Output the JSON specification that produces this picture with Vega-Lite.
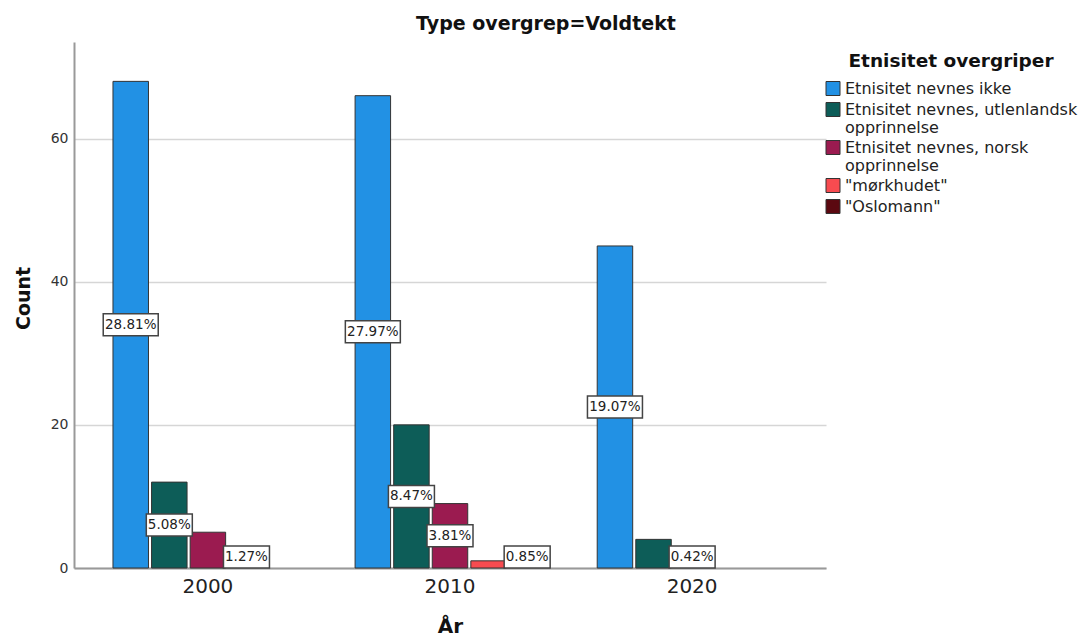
{
  "$schema": "https://vega.github.io/schema/vega-lite/v6.json",
  "width": 752,
  "height": 526,
  "autosize": {"type": "none"},
  "padding": {"left": 74, "top": 42, "right": 262, "bottom": 68},
  "background": "white",
  "config": {"view": {"stroke": null}, "font": "DejaVu Sans"},
  "title": {"text": "Type overgrep=Voldtekt", "fontSize": 19, "fontWeight": "bold", "font": "DejaVu Sans", "anchor": "middle", "frame": "group", "dx": 96, "offset": 8, "color": "#111"},
  "data": {"values": [
    {"year": "2000", "series": "Etnisitet nevnes ikke", "count": 68, "pct": "28.81%"},
    {"year": "2000", "series": "Etnisitet nevnes, utlenlandsk opprinnelse", "count": 12, "pct": "5.08%"},
    {"year": "2000", "series": "Etnisitet nevnes, norsk opprinnelse", "count": 5, "pct": ""},
    {"year": "2000", "series": "\"mørkhudet\"", "count": 0, "pct": "1.27%"},
    {"year": "2000", "series": "\"Oslomann\"", "count": 0, "pct": ""},
    {"year": "2010", "series": "Etnisitet nevnes ikke", "count": 66, "pct": "27.97%"},
    {"year": "2010", "series": "Etnisitet nevnes, utlenlandsk opprinnelse", "count": 20, "pct": "8.47%"},
    {"year": "2010", "series": "Etnisitet nevnes, norsk opprinnelse", "count": 9, "pct": "3.81%"},
    {"year": "2010", "series": "\"mørkhudet\"", "count": 1, "pct": ""},
    {"year": "2010", "series": "\"Oslomann\"", "count": 0, "pct": "0.85%"},
    {"year": "2020", "series": "Etnisitet nevnes ikke", "count": 45, "pct": "19.07%"},
    {"year": "2020", "series": "Etnisitet nevnes, utlenlandsk opprinnelse", "count": 4, "pct": ""},
    {"year": "2020", "series": "Etnisitet nevnes, norsk opprinnelse", "count": 0, "pct": "0.42%"},
    {"year": "2020", "series": "\"mørkhudet\"", "count": 0, "pct": ""},
    {"year": "2020", "series": "\"Oslomann\"", "count": 0, "pct": ""}
  ]},
  "encoding": {
    "x": {
      "field": "year", "type": "nominal",
      "scale": {"paddingInner": 0.216, "paddingOuter": 0.161},
      "axis": {
        "labelAngle": 0, "ticks": false, "labelFontSize": 20, "labelPadding": 8, "labelColor": "#222",
        "domainColor": "#999", "domainWidth": 2,
        "title": "År", "titleFontSize": 20, "titleFontWeight": "bold", "titleColor": "#111",
        "titleY": 58, "titleBaseline": "middle"
      }
    },
    "xOffset": {
      "field": "series", "type": "nominal",
      "scale": {"domain": ["Etnisitet nevnes ikke", "Etnisitet nevnes, utlenlandsk opprinnelse", "Etnisitet nevnes, norsk opprinnelse", "\"mørkhudet\"", "\"Oslomann\""], "paddingInner": 0.08, "paddingOuter": 0}
    },
    "y": {
      "field": "labelY", "type": "quantitative",
      "scale": {"domain": [0, 73.5], "nice": false},
      "axis": {
        "values": [0, 20, 40, 60], "grid": true, "gridColor": "#d6d6d6", "gridWidth": 1.5,
        "ticks": false, "domainColor": "#999", "domainWidth": 2,
        "labelFontSize": 14, "labelColor": "#333", "labelPadding": 6,
        "title": "Count", "titleFontSize": 19, "titleFontWeight": "bold", "titleColor": "#111",
        "titleAngle": -90, "titleX": -51, "titleY": 256, "titleBaseline": "middle", "titleAlign": "center"
      }
    }
  },
  "transform": [{"calculate": "max(datum.count / 2, 1.55)", "as": "labelY"}],
  "layer": [
    {
      "transform": [{"filter": "datum.count > 0"}],
      "mark": {"type": "bar", "stroke": "#333", "strokeWidth": 1},
      "encoding": {
        "y": {"field": "count", "type": "quantitative"},
        "color": {
          "field": "series", "type": "nominal",
          "scale": {
            "domain": ["Etnisitet nevnes ikke", "Etnisitet nevnes, utlenlandsk opprinnelse", "Etnisitet nevnes, norsk opprinnelse", "\"mørkhudet\"", "\"Oslomann\""],
            "range": ["#2291e4", "#0d5d58", "#9b1b50", "#f74b50", "#5b0810"]
          },
          "legend": {
            "title": "Etnisitet overgriper", "orient": "none", "legendX": 751, "legendY": 10,
            "titleFontSize": 18.5, "titleFontWeight": "bold", "titleColor": "#111", "titleAnchor": "middle", "titlePadding": 10, "titleLimit": 400,
            "labelFontSize": 16, "labelColor": "#222", "labelLimit": 400, "labelOffset": 4,
            "symbolType": "square", "symbolSize": 196, "symbolStrokeColor": "#333", "symbolStrokeWidth": 1,
            "rowPadding": 3,
            "labelExpr": "datum.label == 'Etnisitet nevnes, utlenlandsk opprinnelse' ? ['Etnisitet nevnes, utlenlandsk', 'opprinnelse'] : datum.label == 'Etnisitet nevnes, norsk opprinnelse' ? ['Etnisitet nevnes, norsk', 'opprinnelse'] : datum.label"
          }
        }
      }
    },
    {
      "transform": [{"filter": "length(datum.pct) == 5"}],
      "mark": {"type": "point", "shape": "M-1,-0.478H1V0.478H-1Z", "size": 2116, "filled": true, "fill": "white", "stroke": "#444", "strokeWidth": 1.5, "opacity": 1}
    },
    {
      "transform": [{"filter": "length(datum.pct) == 6"}],
      "mark": {"type": "point", "shape": "M-1,-0.4H1V0.4H-1Z", "size": 3025, "filled": true, "fill": "white", "stroke": "#444", "strokeWidth": 1.5, "opacity": 1}
    },
    {
      "transform": [{"filter": "length(datum.pct) > 0"}],
      "mark": {"type": "text", "fontSize": 13.5, "color": "#222", "font": "DejaVu Sans", "baseline": "middle", "align": "center"},
      "encoding": {"text": {"field": "pct"}}
    }
  ]
}
